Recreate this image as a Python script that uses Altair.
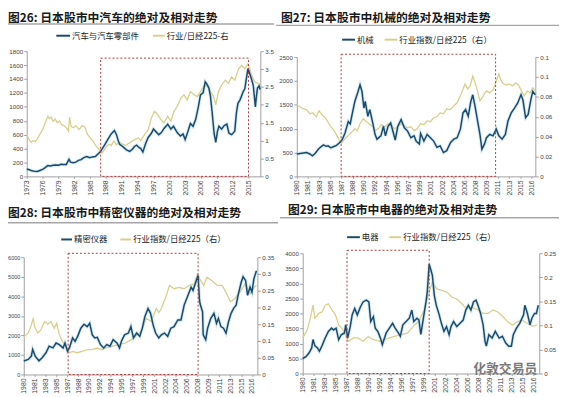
import json
import altair as alt
import pandas as pd

W, H = 559, 389
CJK = "Noto Sans CJK SC"
NAVY = "#1b4a6b"
HALO = "#9ccfe6"
KHAKI = "#d9cf8c"
RED = "#b23a3a"
SEP = "#a6a6a6"

# ---------------- 图26 汽车 ----------------
p26_auto = [(1973.0,105),(1973.5,95),(1974.0,80),(1974.5,72),(1975.0,70),(1975.5,85),(1976.0,100),(1976.5,125),(1977.0,155),(1977.5,150),(1978.0,160),(1978.5,165),(1979.0,160),(1979.5,175),(1980.0,170),(1980.5,172),(1981.0,245),(1981.3,205),(1981.8,195),(1982.3,205),(1982.8,230),(1983.3,240),(1983.8,270),(1984.4,285),(1984.9,270),(1985.4,280),(1986.0,285),(1986.6,330),(1987.0,360),(1987.5,420),(1987.9,470),(1988.5,550),(1989.0,610),(1989.6,660),(1990.0,600),(1990.3,520),(1990.6,460),(1991.0,440),(1991.3,420),(1991.9,380),(1992.5,360),(1993.0,390),(1993.4,430),(1993.8,450),(1994.2,420),(1994.6,400),(1995.0,350),(1995.5,470),(1996.0,560),(1996.6,620),(1997.0,680),(1997.5,640),(1998.0,600),(1998.5,630),(1999.0,690),(1999.7,750),(2000.3,680),(2000.8,720),(2001.5,630),(2002.1,580),(2002.6,610),(2003.0,530),(2003.5,640),(2004.0,760),(2004.5,720),(2005.0,820),(2005.5,1000),(2005.9,1170),(2006.4,1200),(2006.8,1360),(2007.1,1330),(2007.5,1270),(2007.8,1150),(2008.1,930),(2008.5,610),(2008.8,490),(2009.1,640),(2009.4,720),(2009.9,680),(2010.4,730),(2010.9,750),(2011.3,620),(2011.8,600),(2012.4,650),(2012.7,910),(2013.0,1050),(2013.4,1100),(2014.0,1220),(2014.3,1260),(2014.6,1410),(2014.9,1550),(2015.3,1460),(2015.6,1390),(2015.9,1310),(2016.3,1000),(2016.5,1150),(2016.7,1270),(2017.0,1300),(2017.2,1250)]
p26_rel = [(1973.0,1.18),(1973.4,1.04),(1973.8,0.95),(1974.2,1.0),(1974.6,0.97),(1975.0,1.05),(1975.5,1.18),(1976.0,1.3),(1976.5,1.5),(1977.0,1.68),(1977.3,1.62),(1977.6,1.66),(1978.0,1.54),(1978.4,1.6),(1978.8,1.5),(1979.2,1.55),(1979.6,1.45),(1980.0,1.42),(1980.5,1.36),(1980.9,1.27),(1981.1,1.66),(1981.4,1.4),(1981.8,1.36),(1982.3,1.41),(1982.9,1.31),(1983.5,1.42),(1984.0,1.38),(1984.5,1.18),(1985.0,1.08),(1985.6,0.98),(1986.1,0.85),(1986.7,0.76),(1987.2,0.65),(1987.6,0.72),(1988.0,0.81),(1988.6,0.9),(1989.0,0.86),(1989.5,0.99),(1990.0,0.88),(1990.5,0.95),(1991.2,0.9),(1991.8,0.86),(1992.4,0.93),(1993.0,0.99),(1993.7,1.04),(1994.1,1.08),(1994.6,1.0),(1995.0,1.1),(1995.5,1.2),(1995.9,1.27),(1996.3,1.45),(1996.6,1.63),(1997.2,1.82),(1997.8,1.73),(1998.4,1.59),(1999.0,1.5),(1999.7,1.68),(2000.3,1.54),(2000.9,1.82),(2001.5,1.96),(2002.2,2.19),(2002.8,2.28),(2003.4,2.14),(2004.0,2.37),(2004.7,2.28),(2005.3,2.23),(2005.9,2.37),(2006.5,2.51),(2007.1,2.55),(2007.8,2.37),(2008.4,2.23),(2008.8,2.0),(2009.3,2.37),(2009.9,2.55),(2010.6,2.69),(2011.2,2.6),(2011.8,2.78),(2012.4,2.69),(2013.1,3.01),(2013.7,3.1),(2014.3,3.01),(2014.9,3.15),(2015.5,2.87),(2016.1,2.65),(2016.8,2.6),(2017.2,2.55)]
p26_box = [1987.0, 2015.0, 1700]
p26_xticks = [1973, 1976, 1979, 1982, 1985, 1988, 1991, 1994, 1997, 2000, 2003, 2006, 2009, 2012, 2015]
p26_lticks = [0, 200, 400, 600, 800, 1000, 1200, 1400, 1600, 1800]
p26_rticks = [0, 0.5, 1, 1.5, 2, 2.5, 3, 3.5]

# ---------------- 图27 机械 ----------------
p27_mach = [(1980.0,470),(1980.5,480),(1981.0,490),(1981.5,500),(1982.0,470),(1982.4,430),(1982.8,480),(1983.3,570),(1983.7,620),(1984.1,660),(1984.5,630),(1984.8,640),(1985.2,600),(1985.6,620),(1986.1,650),(1986.5,700),(1986.8,740),(1987.0,780),(1987.4,910),(1987.9,1150),(1988.2,1100),(1988.4,1240),(1988.9,1570),(1989.4,1780),(1989.7,1920),(1990.0,1780),(1990.3,1430),(1990.5,1570),(1990.9,1260),(1991.2,1400),(1991.7,1090),(1992.0,880),(1992.3,780),(1992.9,850),(1993.3,1050),(1993.6,850),(1994.0,1050),(1994.4,1120),(1994.8,920),(1995.1,760),(1995.5,1050),(1996.0,1190),(1996.5,1020),(1997.0,950),(1997.5,810),(1998.0,850),(1998.3,740),(1998.8,680),(1999.0,900),(1999.5,740),(2000.0,880),(2000.5,810),(2001.0,740),(2001.5,610),(2002.0,640),(2002.5,500),(2003.0,540),(2003.6,710),(2004.1,780),(2004.6,810),(2005.1,990),(2005.5,1330),(2005.9,1400),(2006.3,1260),(2006.7,1570),(2007.0,1710),(2007.4,1430),(2007.7,1190),(2008.1,880),(2008.4,570),(2008.8,680),(2009.1,810),(2009.6,880),(2010.1,850),(2010.6,990),(2011.0,850),(2011.5,780),(2012.0,880),(2012.4,1160),(2012.9,1330),(2013.4,1430),(2013.9,1540),(2014.4,1710),(2014.7,1600),(2015.1,1230),(2015.5,1300),(2015.9,1600),(2016.2,1780),(2016.6,1710)]
p27_rel = [(1980.0,0.072),(1980.7,0.069),(1981.5,0.067),(1982.0,0.063),(1982.4,0.064),(1983.0,0.060),(1983.4,0.066),(1984.0,0.061),(1984.4,0.059),(1985.1,0.051),(1985.5,0.048),(1985.9,0.044),(1986.4,0.038),(1986.8,0.033),(1987.4,0.038),(1988.2,0.043),(1988.9,0.048),(1989.3,0.046),(1989.7,0.053),(1990.2,0.058),(1990.7,0.055),(1991.1,0.053),(1991.5,0.051),(1992.0,0.046),(1992.5,0.048),(1993.0,0.052),(1993.5,0.050),(1994.0,0.053),(1994.5,0.051),(1995.0,0.048),(1995.5,0.050),(1996.0,0.053),(1996.5,0.051),(1997.0,0.049),(1997.5,0.050),(1998.0,0.046),(1998.5,0.048),(1999.0,0.053),(1999.5,0.052),(2000.0,0.056),(2000.5,0.055),(2001.0,0.059),(2001.5,0.060),(2002.0,0.064),(2002.5,0.063),(2003.0,0.068),(2003.5,0.067),(2004.1,0.071),(2004.6,0.074),(2005.1,0.081),(2005.8,0.093),(2006.2,0.088),(2006.6,0.091),(2007.0,0.101),(2007.3,0.095),(2007.6,0.089),(2008.1,0.076),(2008.6,0.081),(2009.1,0.086),(2009.6,0.084),(2010.1,0.087),(2010.6,0.096),(2011.0,0.103),(2011.3,0.097),(2011.6,0.094),(2012.1,0.092),(2012.6,0.093),(2013.1,0.091),(2013.6,0.094),(2014.0,0.092),(2014.4,0.087),(2014.9,0.081),(2015.4,0.086),(2015.8,0.084),(2016.2,0.089),(2016.6,0.086)]
p27_box = [1986.8, 2010.5, 2560]
p27_xlabels = ["1980","1981","1983","1985","1987","1988","1990","1992","1994","1996","1997","1999","2001","2002","2004","2006","2008","2009","2011","2013","2015","2016"]
p27_lticks = [0, 500, 1000, 1500, 2000, 2500]
p27_rticks = [0, 0.02, 0.04, 0.06, 0.08, 0.1, 0.12]

# ---------------- 图28 精密仪器 ----------------
p28_prec = [(1980.0,690),(1980.7,770),(1981.2,940),(1981.4,1280),(1981.8,940),(1982.4,700),(1982.9,860),(1983.5,1110),(1984.0,1450),(1984.6,1360),(1985.1,1610),(1985.6,1530),(1986.2,1360),(1986.5,1610),(1986.9,1190),(1987.2,1360),(1987.7,1870),(1988.1,1700),(1988.5,1950),(1989.0,2370),(1989.5,2570),(1990.0,2450),(1990.4,2620),(1990.8,2030),(1991.2,1870),(1991.6,1900),(1992.1,1530),(1992.6,1360),(1993.1,1530),(1993.6,1450),(1994.1,1780),(1994.7,1610),(1995.1,1360),(1995.4,1700),(1995.9,2030),(1996.5,2120),(1996.9,2450),(1997.3,1870),(1997.8,2120),(1998.3,1950),(1998.7,2370),(1999.1,2960),(1999.6,3380),(2000.0,3130),(2000.4,2540),(2000.8,2120),(2001.3,1870),(2001.7,2030),(2002.2,2120),(2002.7,1950),(2003.2,2370),(2003.7,2450),(2004.3,2790),(2004.8,2790),(2005.3,3550),(2005.8,3970),(2006.4,4470),(2006.7,4300),(2007.2,4800),(2007.5,5060),(2007.7,3880),(2007.8,3630),(2008.2,3210),(2008.3,2030),(2008.7,1780),(2009.0,2370),(2009.5,2870),(2010.0,3130),(2010.4,2620),(2010.7,2870),(2011.1,2450),(2011.5,2370),(2011.9,2120),(2012.3,2700),(2012.7,3130),(2013.1,3380),(2013.5,3550),(2013.8,4050),(2014.3,4720),(2014.6,5000),(2015.0,4800),(2015.3,4050),(2015.7,4470),(2016.0,4220),(2016.3,4890),(2016.7,5310)]
p28_rel = [(1980.0,0.112),(1980.7,0.124),(1981.2,0.148),(1981.5,0.168),(1981.7,0.143),(1982.2,0.124),(1982.7,0.133),(1983.3,0.158),(1983.8,0.15),(1984.3,0.158),(1984.8,0.138),(1985.2,0.153),(1985.6,0.119),(1986.1,0.099),(1986.6,0.084),(1987.2,0.065),(1987.7,0.069),(1988.4,0.065),(1989.2,0.069),(1990.0,0.074),(1990.8,0.074),(1991.6,0.079),(1992.3,0.074),(1992.9,0.079),(1993.9,0.084),(1994.9,0.089),(1996.0,0.094),(1997.0,0.104),(1997.3,0.109),(1997.9,0.119),(1998.3,0.124),(1998.8,0.14),(1999.3,0.168),(2000.1,0.158),(2000.9,0.197),(2001.3,0.185),(2001.7,0.197),(2002.4,0.231),(2003.0,0.266),(2003.7,0.256),(2004.5,0.26),(2005.3,0.256),(2006.1,0.266),(2006.9,0.27),(2007.4,0.3),(2007.9,0.28),(2008.4,0.266),(2008.9,0.29),(2009.7,0.28),(2010.5,0.266),(2011.3,0.266),(2012.0,0.241),(2012.6,0.217),(2013.3,0.227),(2014.1,0.246),(2014.9,0.27),(2015.7,0.241),(2016.2,0.256),(2016.7,0.266)]
p28_box = [1987.0, 2007.5, 6200]
p28_xlabels = ["1980","1981","1983","1985","1987","1988","1990","1992","1994","1995","1997","1999","2001","2002","2004","2006","2008","2009","2011","2013","2015","2016"]
p28_lticks = [0, 1000, 2000, 3000, 4000, 5000, 6000]
p28_rticks = [0, 0.05, 0.1, 0.15, 0.2, 0.25, 0.3, 0.35]

# ---------------- 图29 电器 ----------------
p29_elec = [(1980.0,500),(1980.5,560),(1981.0,690),(1981.4,850),(1981.6,1130),(1981.9,920),(1982.3,850),(1982.6,740),(1983.0,920),(1983.5,1180),(1984.0,1400),(1984.5,1510),(1984.8,1450),(1985.2,1510),(1985.6,1130),(1986.0,1290),(1986.5,1350),(1986.7,1620),(1987.0,1180),(1987.4,1560),(1987.7,1950),(1988.1,2160),(1988.5,1950),(1989.0,2220),(1989.4,2380),(1989.9,2440),(1990.3,2380),(1990.6,1730),(1991.0,1890),(1991.3,1510),(1991.7,1400),(1992.1,1180),(1992.4,960),(1993.0,1350),(1993.5,1510),(1994.0,1670),(1994.4,1510),(1994.9,1350),(1995.2,1240),(1995.6,1620),(1996.1,1730),(1996.6,1840),(1997.0,2110),(1997.3,1730),(1997.8,1840),(1998.1,1780),(1998.4,1300),(1998.8,1840),(1999.2,2380),(1999.4,2710),(1999.7,3640),(2000.0,3420),(2000.2,3260),(2000.5,2600),(2000.8,2270),(2001.2,2000),(2001.6,1670),(2002.0,1400),(2002.4,1560),(2002.8,1290),(2003.1,1560),(2003.5,1730),(2004.0,1560),(2004.5,1670),(2005.0,1780),(2005.4,2110),(2005.8,2270),(2006.2,2110),(2006.6,2380),(2007.0,2440),(2007.3,2270),(2007.7,2000),(2008.1,1620),(2008.4,1070),(2008.6,910),(2009.0,1290),(2009.5,1180),(2010.0,1400),(2010.6,1180),(2011.1,1240),(2011.6,1020),(2012.1,910),(2012.5,910),(2012.8,1290),(2013.3,1510),(2013.8,1670),(2014.4,1950),(2014.6,2270),(2015.0,2000),(2015.4,1620),(2015.7,1840),(2016.1,2000),(2016.4,2000),(2016.7,2270)]
p29_rel = [(1980.0,0.074),(1980.7,0.091),(1981.2,0.115),(1981.6,0.142),(1981.9,0.115),(1982.5,0.125),(1983.0,0.128),(1983.5,0.142),(1984.0,0.145),(1984.6,0.131),(1985.1,0.122),(1985.6,0.101),(1986.1,0.094),(1986.6,0.081),(1987.1,0.067),(1987.9,0.074),(1988.6,0.074),(1989.4,0.067),(1990.2,0.077),(1990.9,0.071),(1992.0,0.067),(1992.7,0.071),(1993.5,0.074),(1994.3,0.077),(1995.3,0.081),(1996.3,0.084),(1997.3,0.099),(1998.1,0.109),(1998.9,0.132),(1999.7,0.169),(2000.2,0.19),(2000.9,0.176),(2001.7,0.173),(2002.5,0.169),(2003.2,0.159),(2004.0,0.155),(2004.8,0.145),(2005.5,0.135),(2006.3,0.138),(2007.3,0.132),(2008.1,0.125),(2008.9,0.125),(2009.6,0.132),(2010.4,0.128),(2011.2,0.118),(2011.9,0.108),(2012.7,0.101),(2013.5,0.108),(2014.2,0.111),(2015.0,0.104),(2015.8,0.098),(2016.5,0.101)]
p29_box = [1986.9, 1999.7, 4100]
p29_xlabels = ["1980","1981","1983","1985","1987","1988","1990","1992","1994","1996","1997","1999","2001","2002","2004","2006","2008","2009","2011","2013","2015","2016"]
p29_lticks = [0, 500, 1000, 1500, 2000, 2500, 3000, 3500, 4000]
p29_rticks = [0, 0.05, 0.1, 0.15, 0.2, 0.25]

ONE = pd.DataFrame({"a": [0]})


def deco_text(text, x, y, size, weight="normal", color="#222"):
    return alt.Chart(ONE).mark_text(
        text=text, align="left", baseline="middle", fontSize=size,
        fontWeight=weight, font=CJK, color=color
    ).encode(x=alt.value(x), y=alt.value(y))


def deco_rule(x0, x1, y, color, width):
    return alt.Chart(ONE).mark_rule(color=color, strokeWidth=width).encode(
        x=alt.value(x0), x2=alt.value(x1), y=alt.value(y)
    )


def panel(c):
    xl, xr, yt, yb = c["plot"]
    xs = alt.Scale(domain=c["xdom"], range=[xl, xr], nice=False, zero=False)
    ls = alt.Scale(domain=c["ldom"], range=[yb, yt], nice=False, zero=False)
    rs = alt.Scale(domain=c["rdom"], range=[yb, yt], nice=False, zero=False)
    xaxis = alt.Axis(orient="bottom", offset=yb - H, values=c["xticks"], labelAngle=270,
                     labelFontSize=7, tickSize=2, labelPadding=1.5, labelOverlap=False,
                     labelFlush=False, **c["xfmt"])
    laxis = alt.Axis(orient="left", offset=-xl, values=c["lticks"], format="d",
                     labelFontSize=c["lfs"], tickSize=3, labelPadding=c["lpad"],
                     labelOverlap=False, labelFlush=False)
    raxis = alt.Axis(orient="right", offset=xr - W, values=c["rticks"], format="~g",
                     labelFontSize=6.3, tickSize=3, labelPadding=1.5,
                     labelOverlap=False, labelFlush=False)
    dl = pd.DataFrame(c["left"], columns=["x", "v"])
    dr = pd.DataFrame(c["right"], columns=["x", "v"])
    b = c["boxv"]
    db = pd.DataFrame({"x0": [b[0]], "x1": [b[1]], "y0": [0], "y1": [b[2]]})

    khaki = alt.Chart(dr).mark_line(color=KHAKI, strokeWidth=1.3).encode(
        x=alt.X("x:Q", scale=xs, axis=None),
        y=alt.Y("v:Q", scale=rs, axis=raxis, title=None))
    halo = alt.Chart(dl).mark_line(color=HALO, strokeWidth=3.4, opacity=0.45).encode(
        x=alt.X("x:Q", scale=xs, axis=None),
        y=alt.Y("v:Q", scale=ls, axis=None))
    navy = alt.Chart(dl).mark_line(color=NAVY, strokeWidth=1.5).encode(
        x=alt.X("x:Q", scale=xs, axis=xaxis, title=None),
        y=alt.Y("v:Q", scale=ls, axis=laxis, title=None))
    box = alt.Chart(db).mark_rect(fillOpacity=0, stroke=RED, strokeDash=[2, 2], strokeWidth=1).encode(
        x=alt.X("x0:Q", scale=xs, axis=None), x2="x1:Q",
        y=alt.Y("y0:Q", scale=ls, axis=None), y2="y1:Q")

    tx, ty = c["title_xy"]
    s0, s1, sy = c["sep"]
    ly, n0, n1, ntx, k0, k1, ktx = c["legend"]
    decos = [
        deco_text(c["title"], tx, ty, 12, "bold", "#1a1a1a"),
        deco_rule(s0, s1, sy, SEP, 1.5),
        deco_rule(n0, n1, ly, NAVY, 2),
        deco_text(c["lname"], ntx, ly, 8.5, "normal", "#222"),
        deco_rule(k0, k1, ly, KHAKI, 2),
        deco_text(c["rname"], ktx, ly, 8.5, "normal", "#222"),
    ]
    return [khaki, halo, navy, box] + decos


def lab_expr(labels):
    return {"labelExpr": "%s[round((datum.value - 1980) * 21 / 36)]" % json.dumps(labels)}


def ticks22():
    return [1980 + k * 36 / 21 for k in range(22)]


panels = [
    dict(plot=(19, 256, 41, 168), xdom=[1973, 2017.24], ldom=[0, 1800], rdom=[0, 3.5],
         xticks=p26_xticks, xfmt={"format": "d"}, lticks=p26_lticks, rticks=p26_rticks, lfs=6.3, lpad=1.2,
         left=p26_auto, right=p26_rel, boxv=p26_box,
         title="图26:  日本股市中汽车的绝对及相对走势", title_xy=(0, 7.2), sep=(0, 270, 13.5),
         legend=(25.3, 49, 63, 65, 147, 159, 161), lname="汽车与汽车零部件", rname="行业/日经225-右"),
    dict(plot=(293, 535, 47, 168), xdom=[1980, 2016.6], ldom=[0, 2500], rdom=[0, 0.12],
         xticks=ticks22(), xfmt=lab_expr(p27_xlabels), lticks=p27_lticks, rticks=p27_rticks, lfs=6.2, lpad=1.5,
         left=p27_mach, right=p27_rel, boxv=p27_box,
         title="图27:  日本股市中机械的绝对及相对走势", title_xy=(277, 7.2), sep=(272, 559, 14.8),
         legend=(29.3, 339, 352, 354, 382, 395, 397), lname="机械", rname="行业指数/日经225（右）"),
    dict(plot=(16, 253, 250, 369), xdom=[1980, 2016.85], ldom=[0, 6000], rdom=[0, 0.35],
         xticks=ticks22(), xfmt=lab_expr(p28_xlabels), lticks=p28_lticks, rticks=p28_rticks, lfs=5.6, lpad=1,
         left=p28_prec, right=p28_rel, boxv=p28_box,
         title="图28:  日本股市中精密仪器的绝对及相对走势", title_xy=(0, 205), sep=(0, 274, 215),
         legend=(232, 54, 65, 67, 114, 125, 127), lname="精密仪器", rname="行业指数/日经225（右）"),
    dict(plot=(299, 539, 246, 368), xdom=[1980, 2016.85], ldom=[0, 4000], rdom=[0, 0.25],
         xticks=ticks22(), xfmt=lab_expr(p29_xlabels), lticks=p29_lticks, rticks=p29_rticks, lfs=6.2, lpad=1.5,
         left=p29_elec, right=p29_rel, boxv=p29_box,
         title="图29:  日本股市中电器的绝对及相对走势", title_xy=(284, 202), sep=(276, 559, 210),
         legend=(229.7, 344, 357, 359, 387, 399, 401), lname="电器", rname="行业指数/日经225（右）"),
]

layers = []
for c in panels:
    layers += panel(c)

layers.append(deco_text("化敦交易员", 472, 363, 13, "bold", "#7a7a7a"))

chart = alt.layer(*layers).resolve_scale(x="independent", y="independent").properties(
    width=W, height=H, autosize=alt.AutoSizeParams(type="none"), padding=0
).configure_view(stroke="transparent").configure_axis(
    labelFont="Liberation Sans", labelColor="#444", domainColor="#a0a0a0",
    tickColor="#a0a0a0", grid=False
)

chart.save("out.html", embed_options={"renderer": "svg", "actions": False})
